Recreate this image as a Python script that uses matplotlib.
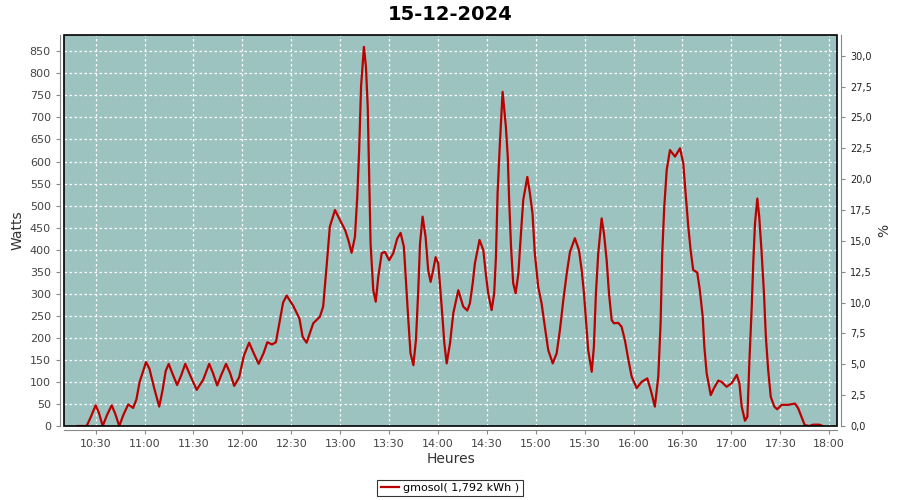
import numpy as np
import pandas as pd
import matplotlib
matplotlib.use('Agg')
import matplotlib.pyplot as plt
import matplotlib.dates as mdates
from matplotlib.patches import Rectangle
from matplotlib.ticker import FuncFormatter, MultipleLocator

#================================================================
# data (time of day, Watts)
times = ['10:19:00', '10:24:30', '10:27:00', '10:30:00', '10:32:00', '10:34:20', '10:37:00',
         '10:39:50', '10:42:00', '10:44:30', '10:47:00', '10:50:00', '10:53:00', '10:55:00',
         '10:57:00', '11:00:55', '11:03:00', '11:06:00', '11:09:00', '11:11:00', '11:13:00',
         '11:14:50', '11:17:00', '11:20:00', '11:22:30', '11:25:00', '11:28:00', '11:32:00',
         '11:36:00', '11:39:40', '11:42:00', '11:44:35', '11:47:00', '11:50:00', '11:52:30',
         '11:55:00', '11:58:00', '12:01:00', '12:04:10', '12:07:00', '12:10:00', '12:13:00',
         '12:15:20', '12:18:10', '12:20:35', '12:23:00', '12:25:00', '12:27:10', '12:31:10',
         '12:35:00', '12:37:00', '12:39:25', '12:43:30', '12:47:35', '12:49:35', '12:51:40',
         '12:53:40', '12:56:50', '12:59:55', '13:03:00', '13:05:00', '13:07:00', '13:09:05',
         '13:10:30', '13:11:40', '13:12:50', '13:14:35', '13:15:50', '13:16:55', '13:17:40',
         '13:18:40', '13:20:20', '13:21:50', '13:23:25', '13:25:30', '13:27:30', '13:30:05',
         '13:32:35', '13:35:00', '13:37:05', '13:39:05', '13:40:25', '13:41:50', '13:43:10',
         '13:44:55', '13:46:30', '13:47:55', '13:49:00', '13:50:35', '13:52:25', '13:54:00',
         '13:55:30', '13:57:05', '13:58:35', '14:00:10', '14:01:10', '14:02:35', '14:03:55',
         '14:05:20', '14:07:25', '14:09:25', '14:12:30', '14:15:30', '14:18:00', '14:19:35',
         '14:21:20', '14:22:40', '14:25:30', '14:27:50', '14:29:20', '14:30:50', '14:32:55',
         '14:34:30', '14:35:35', '14:36:35', '14:38:00', '14:39:40', '14:41:40', '14:42:50',
         '14:43:40', '14:44:50', '14:46:10', '14:47:40', '14:49:20', '14:50:55', '14:52:20',
         '14:54:50', '14:56:25', '14:58:00', '14:59:25', '15:01:30', '15:03:35', '15:05:35',
         '15:07:40', '15:10:25', '15:12:50', '15:14:50', '15:16:55', '15:19:00', '15:21:00',
         '15:24:00', '15:26:30', '15:28:10', '15:29:35', '15:30:50', '15:32:10', '15:34:20',
         '15:35:40', '15:36:55', '15:38:20', '15:40:25', '15:41:50', '15:43:30', '15:44:55',
         '15:46:35', '15:48:00', '15:50:35', '15:52:40', '15:54:40', '15:56:50', '15:58:50',
         '16:01:55', '16:04:55', '16:08:25', '16:10:30', '16:13:05', '16:15:10', '16:16:35',
         '16:17:35', '16:18:50', '16:20:20', '16:22:20', '16:25:25', '16:28:30', '16:30:30',
         '16:32:05', '16:33:35', '16:35:00', '16:36:35', '16:39:05', '16:40:40', '16:42:25',
         '16:43:25', '16:44:50', '16:47:20', '16:49:20', '16:52:00', '16:54:00', '16:57:05',
         '17:00:10', '17:03:20', '17:04:55', '17:06:20', '17:08:20', '17:09:50', '17:11:00',
         '17:12:30', '17:13:25', '17:14:30', '17:15:55', '17:17:05', '17:18:35', '17:20:00',
         '17:21:10', '17:22:35', '17:24:10', '17:26:20', '17:28:05', '17:30:50', '17:34:55',
         '17:39:00', '17:41:00', '17:43:00', '17:45:00', '17:48:00', '17:50:00', '17:54:00',
         '17:56:00']

watts = [0, 0, 20, 47, 30, 0, 25,
         47, 28, 0, 25, 49, 41, 60,
         100, 145, 130, 85, 44, 80, 125,
         141, 120, 93, 115, 141, 115, 82,
         105, 141, 120, 92, 115, 141, 120,
         91, 110, 160, 189, 165, 141, 165,
         190, 185, 190, 240, 280, 296, 273,
         244, 202, 189, 233, 248, 271, 361,
         452, 490, 467, 445, 422, 393, 429,
         520, 626, 770, 860, 815, 724, 596,
         414, 308, 282, 339, 392, 395, 376,
         392, 425, 438, 407, 324, 240, 165,
         138, 195, 308, 414, 475, 429, 354,
         327, 354, 383, 369, 324, 256, 188,
         142, 188, 256, 308, 271, 262, 278,
         324, 369, 422, 399, 346, 301, 263,
         301, 384, 528, 641, 758, 679, 611,
         513, 407, 324, 301, 346, 437, 513,
         565, 528, 482, 392, 316, 278, 225,
         172, 142, 165, 218, 286, 346, 395,
         426, 399, 354, 301, 240, 172, 123,
         180, 301, 392, 471, 437, 376, 301,
         240, 233, 234, 225, 195, 150, 112,
         86, 100, 108, 82, 44, 112, 233,
         392, 497, 581, 626, 611, 630, 596,
         520, 452, 399, 354, 348, 308, 248,
         180, 120, 70, 86, 103, 100, 89,
         97, 116, 97, 44, 12, 21, 142,
         271, 369, 460, 516, 475, 392, 301,
         202, 127, 66, 44, 38, 48, 48,
         51, 40, 21, 2, 0, 3, 3,
         0]

day = '2024-12-15'
title = '15-12-2024'
serie_name = 'gmosol( 1,792 kWh )'
peak_power = 2800.0   # W, 100 % on right axis
#================================================================
t = pd.to_datetime([day + ' ' + s for s in times])
w = np.array(watts, dtype=float)

fig = plt.figure(figsize=(9, 5), dpi=100)
ax = fig.add_axes([64/900, 1-426/500, (837-64)/900, (426-35)/500])

bg = '#9dc3c1'
ax.set_facecolor(bg)
ax.plot(t, w, color='#bb0000', lw=1.6, zorder=3)

x0 = pd.Timestamp(day + ' 10:10:36')
x1 = pd.Timestamp(day + ' 18:04:48')
ax.set_xlim(x0, x1)
ax.set_ylim(0, 887)

ax.xaxis.set_major_locator(mdates.MinuteLocator(byminute=[0, 30]))
ax.xaxis.set_major_formatter(mdates.DateFormatter('%H:%M'))
ax.yaxis.set_major_locator(MultipleLocator(50))

ax.grid(True, color='white', ls=(0, (2, 2)), lw=0.9, zorder=1)

grey = '#444444'
for s in ['left', 'bottom']:
    ax.spines[s].set_position(('outward', 3))
    ax.spines[s].set_color('#888888')
for s in ['top', 'right']:
    ax.spines[s].set_visible(False)
ax.add_patch(Rectangle((0, 0), 1, 1, transform=ax.transAxes, fill=False,
                       ec='black', lw=1.2, zorder=5, clip_on=False))
ax.tick_params(colors='#888888', labelcolor=grey, labelsize=8, length=3)

ax.set_ylabel('Watts', fontsize=10, color='#333333')
ax.set_xlabel('Heures', fontsize=10, color='#333333', labelpad=2)

ax2 = ax.twinx()
ax2.set_ylim(0, 887/peak_power*100)
ax2.yaxis.set_major_locator(MultipleLocator(2.5))
ax2.yaxis.set_major_formatter(FuncFormatter(lambda v, p: ('%.1f' % v).replace('.', ',')))
for s in ['left', 'top', 'bottom']:
    ax2.spines[s].set_visible(False)
ax2.spines['right'].set_position(('outward', 3))
ax2.spines['right'].set_color('#888888')
ax2.tick_params(colors='#888888', labelcolor='#222222', labelsize=7, length=3)
ax2.set_ylabel('%', fontsize=10, color='#333333')

fig.suptitle(title, x=0.5, y=0.99, fontsize=14, fontweight='bold')

leg = ax.legend([ax.lines[0]], [serie_name], loc='center', bbox_to_anchor=(0.5, 12/500),
                bbox_transform=fig.transFigure, frameon=True, fancybox=False,
                fontsize=8, handlelength=1.6, borderpad=0.3, handletextpad=0.4)
leg.get_frame().set_edgecolor('black')
leg.get_frame().set_linewidth(0.8)

fig.savefig('out.png', dpi=100)
